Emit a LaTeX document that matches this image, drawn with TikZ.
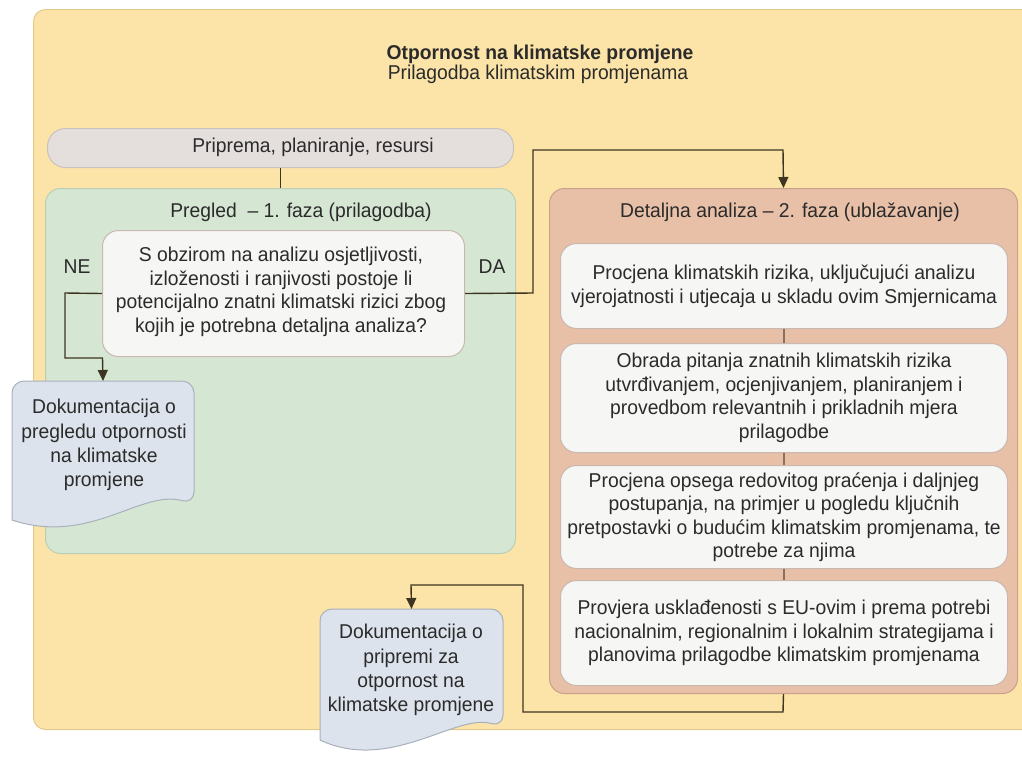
\documentclass[tikz,border=0pt]{standalone}
\usepackage{fontspec}
\setmainfont{Liberation Sans}[FakeStretch=0.965]
\usetikzlibrary{arrows.meta,calc}
\definecolor{bgY}{HTML}{FCE4A8}
\definecolor{bgYd}{HTML}{E3CB8E}
\definecolor{grF}{HTML}{D5E7D3}
\definecolor{grD}{HTML}{B9CFB4}
\definecolor{saF}{HTML}{E8C0A8}
\definecolor{saD}{HTML}{C9A08A}
\definecolor{piF}{HTML}{E4DEDD}
\definecolor{piD}{HTML}{C9C1BE}
\definecolor{whF}{HTML}{F6F6F4}
\definecolor{whD}{HTML}{C8B8B0}
\definecolor{doF}{HTML}{DDE3EC}
\definecolor{doD}{HTML}{A8B0BC}
\definecolor{txt}{HTML}{2B2B2B}
\definecolor{lnC}{HTML}{3D3520}
\definecolor{lnS}{HTML}{8A7060}
\tikzset{
  boxbase/.style={anchor=north west, inner sep=0pt, line width=1pt},
  outerbox/.style={boxbase, fill=bgY, draw=bgYd, rounded corners=12pt},
  phasegreen/.style={boxbase, fill=grF, draw=grD, rounded corners=15pt},
  phasesalmon/.style={boxbase, fill=saF, draw=saD, rounded corners=15pt},
  pillbox/.style={boxbase, fill=piF, draw=piD, rounded corners=18pt},
  whitebox/.style={boxbase, fill=whF, draw=whD, rounded corners=16pt},
  docnode/.style={boxbase},
  txtnode/.style={text=txt, align=center, inner sep=0pt},
  flow/.style={draw=lnC, line width=1.4pt, -{Triangle[length=11pt,width=10pt]}},
  plainln/.style={draw=lnC, line width=1.4pt},
  stepln/.style={draw=lnS, line width=1.4pt},
  docshape/.style={fill=doF, draw=doD, line width=1pt},
}
\begin{document}
\begin{tikzpicture}[x=1pt,y=-1pt,font=\fontsize{20}{23.5}\selectfont]
\useasboundingbox (0,0) rectangle (1022,756);
\node[outerbox, minimum width=1010pt, minimum height=720pt] (outer) at (33,9) {};
\node[txtnode, font=\fontsize{20}{23.5}\selectfont\bfseries] (title) at (540,54) {Otpornost na klimatske promjene};
\node[txtnode] (subtitle) at (538,74) {Prilagodba klimatskim promjenama};

% preparation pill
\node[pillbox, minimum width=466pt, minimum height=39pt] (pill) at (47,128) {};
\node[txtnode] (pilltxt) at (313,147) {Priprema, planiranje, resursi};

% green phase
\node[phasegreen, minimum width=470pt, minimum height=365pt] (green) at (45,188) {};
\node[txtnode] (greentitle) at (301,212) {Pregled \ – 1. faza (prilagodba)};
\draw[plainln] (pill.south) -- (pill.south |- green.north);

\node[whitebox, minimum width=362pt, minimum height=126pt] (dec) at (102,230) {};
\node[txtnode] (dectxt) at (281,292) {S obzirom na analizu osjetljivosti,\\izloženosti i ranjivosti postoje li\\potencijalno znatni klimatski rizici zbog\\kojih je potrebna detaljna analiza?};
\node[txtnode] (ne) at (77,267) {NE};
\node[txtnode] (da) at (492,267) {DA};

% salmon phase
\node[phasesalmon, minimum width=468pt, minimum height=505pt] (rbox) at (549,188) {};
\node[txtnode] (rtitle) at (790,212) {Detaljna analiza – 2. faza (ublažavanje)};
\node[whitebox, minimum width=447pt, minimum height=85pt] (b1) at (560,243) {};
\node[txtnode] (b1t) at (b1.center) {Procjena klimatskih rizika, uključujući analizu\\vjerojatnosti i utjecaja u skladu ovim Smjernicama};
\node[whitebox, minimum width=447pt, minimum height=109pt] (b2) at (560,343) {};
\node[txtnode] (b2t) at (b2.center) {Obrada pitanja znatnih klimatskih rizika\\utvrđivanjem, ocjenjivanjem, planiranjem i\\provedbom relevantnih i prikladnih mjera\\prilagodbe};
\node[whitebox, minimum width=447pt, minimum height=103pt] (b3) at (560,465) {};
\node[txtnode] (b3t) at (b3.center) {Procjena opsega redovitog praćenja i daljnjeg\\postupanja, na primjer u pogledu ključnih\\pretpostavki o budućim klimatskim promjenama, te\\potrebe za njima};
\node[whitebox, minimum width=447pt, minimum height=105pt] (b4) at (560,580) {};
\node[txtnode] (b4t) at (b4.center) {Provjera usklađenosti s EU-ovim i prema potrebi\\nacionalnim, regionalnim i lokalnim strategijama i\\planovima prilagodbe klimatskim promjenama};
\draw[stepln] (b1.south) -- (b2.north);
\draw[stepln] (b2.south) -- (b3.north);
\draw[stepln] (b3.south) -- (b4.north);

% documents
\node[docnode, minimum width=181pt, minimum height=138pt] (doc1) at (12,381) {};
\draw[docshape] (doc1.south west) [rounded corners=12pt] -- (doc1.north west) -- (doc1.north east)
  -- ($(doc1.south east)+(0,-16)$) [sharp corners]
  .. controls ($(doc1.south east)+(-53,-31)$) and ($(doc1.south west)+(78,26)$) .. (doc1.south west) -- cycle;
\node[txtnode, font=\fontsize{20}{24.3}\selectfont] (doc1t) at (104,445) {Dokumentacija o\\pregledu otpornosti\\na klimatske\\promjene};

\node[docnode, minimum width=182pt, minimum height=130pt] (doc2) at (320,609) {};
\draw[docshape] (doc2.south west) [rounded corners=12pt] -- (doc2.north west) -- (doc2.north east)
  -- ($(doc2.south east)+(0,-13)$) [sharp corners]
  .. controls ($(doc2.south east)+(-47,-27)$) and ($(doc2.south west)+(70,33)$) .. (doc2.south west) -- cycle;
\node[txtnode, font=\fontsize{20}{24.3}\selectfont] (doc2t) at (411,670) {Dokumentacija o\\pripremi za\\otpornost na\\klimatske promjene};

% connectors
\coordinate (n1) at (65,293);
\coordinate (n2) at (65,358);
\coordinate (n3) at (102.5,358);
\draw[flow] (dec.west) -- (n1) -- (n2) -- (n3) -- (doc1.north);

\coordinate (d1) at (533,293);
\coordinate (d2) at (533,150);
\coordinate (d3) at (783,150);
\draw[flow] (dec.east) -- (d1) -- (d2) -- (d3) -- (rbox.north);

\coordinate (r1) at (783,712);
\coordinate (r2) at (523,712);
\coordinate (r3) at (523,585);
\coordinate (r4) at (411,585);
\draw[flow] (rbox.south) -- (r1) -- (r2) -- (r3) -- (r4) -- (doc2.north);
\end{tikzpicture}
\end{document}
